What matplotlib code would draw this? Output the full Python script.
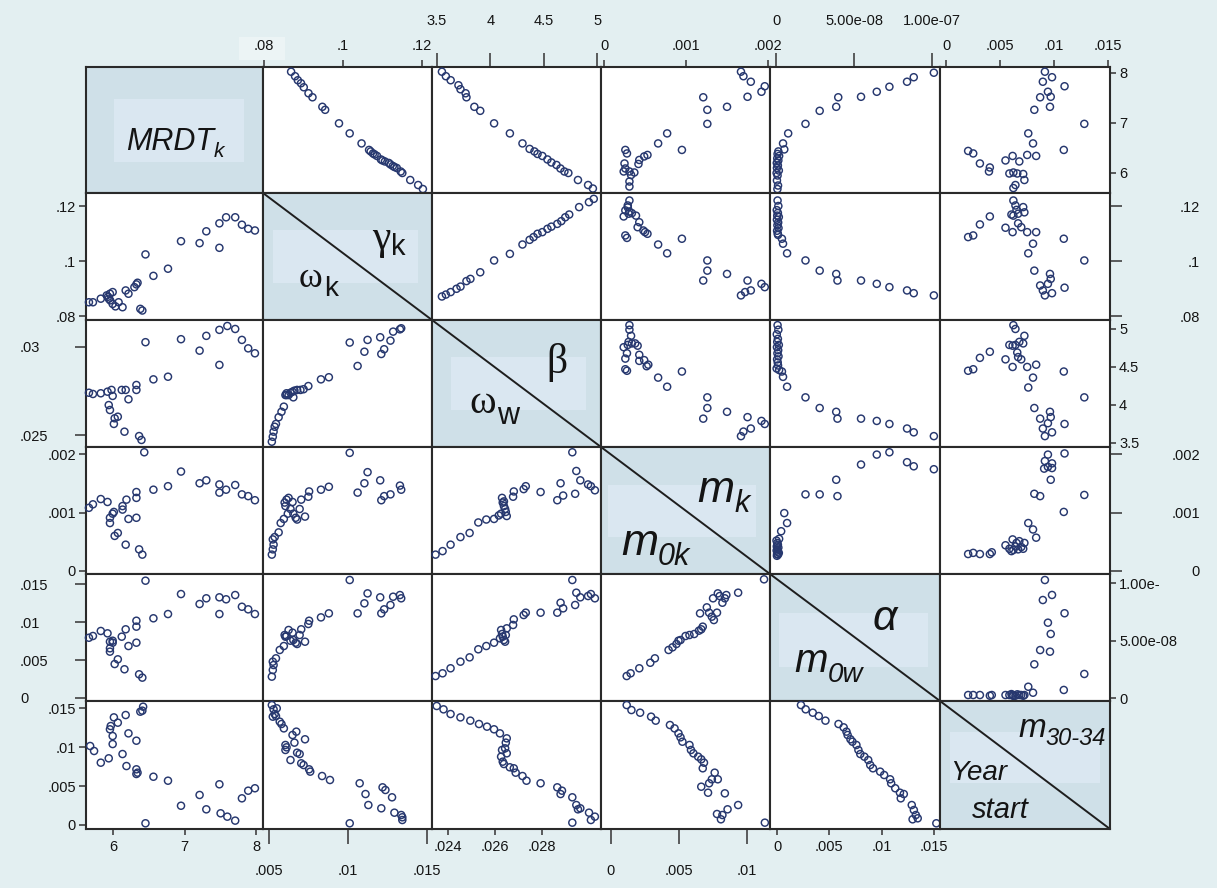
import matplotlib
matplotlib.use('Agg')
import matplotlib.pyplot as plt
from matplotlib.patches import Rectangle
from matplotlib.lines import Line2D

W, H = 1217, 888
BG = '#e3eff1'
DIAG_OUT = '#cfe0e8'
DIAG_IN = '#dae7f1'
MK = '#27386f'
FR = '#2a2a2a'
TXT = '#141414'
TICKC = '#333333'
FONT = 'Liberation Sans'

# ---------------- data ----------------
# upper triangle
c01_x = [.0869,.0879,.0886,.0894,.0901,.0913,.0923,.0948,.0955,.0990,.1017,.1047,.1066,.1070,.1076,.1080,.1086,.1096,.1100,.1106,.1116,.1120,.1126,.1130,.1136,.1146,.1150,.1170,.1190,.1202]
c01_y = [8.02,7.93,7.85,7.79,7.71,7.59,7.51,7.32,7.26,6.99,6.79,6.59,6.46,6.43,6.39,6.37,6.34,6.27,6.25,6.23,6.20,6.17,6.14,6.12,6.10,6.03,6.00,5.86,5.76,5.68]
c02_x = [3.546,3.583,3.628,3.701,3.720,3.768,3.776,3.850,3.905,4.035,4.183,4.301,4.368,4.413,4.442,4.487,4.535,4.572,4.620,4.657,4.694,4.731,4.821,4.916,4.961]
c02_y = [8.02,7.93,7.85,7.75,7.67,7.59,7.51,7.32,7.24,6.99,6.79,6.59,6.48,6.43,6.38,6.34,6.27,6.21,6.16,6.09,6.03,6.00,5.86,5.76,5.69]
c03_x = [.00167,.00170,.00179,.00196,.00192,.00175,.00121,.00126,.00150,.00126,.00077,.00066,.00095,.00026,.00028,.00053,.00049,.00043,.00042,.00025,.00026,.00031,.00037,.00024,.00033,.00031,.00031]
c03_y = [8.02,7.93,7.82,7.73,7.62,7.52,7.51,7.26,7.32,6.98,6.79,6.59,6.46,6.46,6.39,6.36,6.33,6.26,6.18,6.19,6.09,6.03,6.01,6.03,5.96,5.83,5.73]
c04_x = [1.012e-7,8.83e-8,8.40e-8,7.27e-8,6.46e-8,5.45e-8,3.99e-8,3.86e-8,2.80e-8,1.89e-8,7.8e-9,4.5e-9,5.3e-9,
         1.5e-9,1.0e-9,2.0e-9,0.8e-9,1.5e-9,0.5e-9,1.2e-9,0.6e-9,1.8e-9,0.4e-9,1.0e-9,0.6e-9,1.3e-9,0.9e-9]
c04_y = [8.00,7.91,7.82,7.72,7.62,7.52,7.51,7.32,7.24,6.98,6.79,6.59,6.47,
         6.43,6.38,6.34,6.29,6.25,6.20,6.15,6.10,6.05,6.00,5.95,5.85,5.75,5.68]
c05_x = [.00916,.00982,.00897,.01098,.00944,.00970,.00872,.00963,.00818,.01281,.00762,.00806,.01091,.00205,.00252,.00314,.00406,.00398,.00551,.00617,.00679,.00752,.00835,.00587,.00624,.00660,.00715,.00726,.00643,.00624]
c05_y = [8.02,7.91,7.82,7.73,7.62,7.52,7.51,7.32,7.26,6.98,6.79,6.59,6.46,6.44,6.39,6.19,6.11,6.03,6.25,6.34,6.23,6.36,6.34,5.99,6.01,5.99,5.98,5.86,5.76,5.70]

c12_x = [3.546,3.583,3.628,3.683,3.720,3.776,3.813,3.905,4.035,4.183,4.301,4.368,4.405,4.442,4.487,4.535,4.572,4.627,4.665,4.702,4.739,4.832,4.924,4.969]
c12_y = [.0871,.0878,.0887,.0899,.0907,.0927,.0935,.0959,.1002,.1026,.1060,.1077,.1087,.1099,.1105,.1117,.1125,.1135,.1145,.1159,.1169,.1196,.1214,.1226]
c13_x = [.00031,.00029,.00026,.00024,.00030,.00034,.00039,.00043,.00041,.00048,.00053,.00050,.00026,.00028,.00066,.00077,.00095,.00126,.00126,.00121,.00150,.00175,.00167,.00172,.00179,.00192,.00196,.00029,.00031]
c13_y = [.1220,.1202,.1184,.1162,.1172,.1174,.1165,.1141,.1123,.1111,.1099,.1105,.1093,.1084,.1060,.1028,.1081,.1002,.0965,.0929,.0953,.0929,.0875,.0887,.0893,.0917,.0905,.1195,.1180]
c14_x = [3.8e-9,4.5e-9,7.1e-9,1.89e-8,2.80e-8,3.86e-8,3.94e-8,5.45e-8,6.46e-8,7.27e-8,8.40e-8,8.83e-8,1.012e-7,
         1.0e-9,1.5e-9,0.5e-9,1.2e-9,0.8e-9,1.8e-9,0.6e-9,1.4e-9,0.9e-9,1.6e-9,0.7e-9,1.1e-9,1.3e-9]
c14_y = [.1081,.1063,.1028,.1002,.0965,.0953,.0929,.0929,.0917,.0905,.0893,.0883,.0875,
         .1220,.1200,.1185,.1175,.1165,.1160,.1150,.1140,.1130,.1120,.1110,.1100,.1095]
c15_x = [.00624,.00643,.00653,.00606,.00624,.00668,.00726,.00715,.00406,.00314,.00551,.00617,.00668,.00697,.00752,.00835,.00205,.00252,.01091,.00806,.00762,.01281,.00818,.00963,.00970,.00944,.00872,.00897,.00982,.00916,.01098]
c15_y = [.1220,.1202,.1186,.1169,.1165,.1172,.1177,.1196,.1162,.1133,.1121,.1105,.1137,.1123,.1105,.1105,.1087,.1093,.1081,.1063,.1028,.1002,.0965,.0953,.0935,.0917,.0911,.0893,.0883,.0875,.0903]

c23_x = [.00031,.00031,.00033,.00030,.00024,.00029,.00034,.00038,.00041,.00028,.00026,.00043,.00043,.00049,.00052,.00054,.00026,.00028,.00066,.00077,.00095,.00126,.00126,.00121,.00150,.00175,.00167,.00170,.00179,.00192,.00196]
c23_y = [5.05,4.99,4.91,4.83,4.76,4.79,4.81,4.81,4.78,4.68,4.61,4.66,4.58,4.59,4.51,4.53,4.47,4.45,4.36,4.24,4.44,4.10,3.96,3.82,3.91,3.84,3.59,3.65,3.69,3.79,3.75]
c24_x = [3.8e-9,4.5e-9,7.1e-9,1.89e-8,2.80e-8,3.86e-8,3.94e-8,5.45e-8,6.46e-8,7.27e-8,8.40e-8,8.83e-8,1.012e-7,
         1.0e-9,1.5e-9,0.5e-9,1.2e-9,0.8e-9,1.8e-9,0.6e-9,1.4e-9,0.9e-9,1.6e-9,0.7e-9,1.1e-9,1.3e-9,0.4e-9,2.0e-9]
c24_y = [4.44,4.37,4.24,4.10,3.96,3.91,3.82,3.82,3.79,3.75,3.69,3.64,3.59,
         5.05,4.99,4.93,4.87,4.83,4.79,4.76,4.72,4.68,4.64,4.60,4.56,4.52,4.48,4.46]
c25_x = [.00624,.00643,.00726,.00679,.00587,.00617,.00643,.00715,.00406,.00314,.00551,.00660,.00668,.00697,.00617,.00752,.00835,.00205,.00252,.01091,.00806,.00762,.01281,.00818,.00963,.00970,.00872,.00944,.00916,.00897,.00982,.01098]
c25_y = [5.05,5.00,4.91,4.83,4.79,4.78,4.79,4.81,4.70,4.62,4.60,4.69,4.63,4.60,4.50,4.50,4.53,4.45,4.47,4.44,4.36,4.23,4.10,3.96,3.91,3.84,3.82,3.76,3.59,3.69,3.64,3.75]

c34_x = [2.0e-9,3.3e-9,5.3e-9,7.1e-9,1.89e-8,2.80e-8,3.86e-8,3.94e-8,5.45e-8,6.46e-8,7.27e-8,8.40e-8,8.83e-8,1.012e-7,
         0.3e-9,0.8e-9,1.2e-9,0.5e-9,1.5e-9,0.9e-9,0.4e-9,1.1e-9,1.8e-9,0.7e-9,1.3e-9,0.6e-9]
c34_y = [.00055,.00068,.00099,.00082,.00131,.00131,.00156,.00128,.00182,.00199,.00203,.00186,.00179,.00174,
         .00052,.00048,.00045,.00042,.00040,.00037,.00035,.00033,.00031,.00029,.00028,.00026]
c35_x = [.00944,.00916,.00982,.00944,.00982,.00909,.00970,.01098,.00818,.00872,.01281,.01091,.00762,.00806,.00835,.00726,.00205,.00252,.00314,.00406,.00424,.00551,.00617,.00653,.00587,.00624,.00668,.00697,.00715,.00643,.00606,.00679]
c35_y = [.00199,.00188,.00184,.00178,.00176,.00175,.00156,.00201,.00132,.00128,.00130,.00101,.00082,.00071,.00057,.00048,.00029,.00031,.00029,.00029,.00032,.00044,.00054,.00048,.00038,.00036,.00037,.00041,.00038,.00042,.00034,.00051]
c45_x = [.00916,.00982,.00897,.01098,.00944,.00970,.00872,.00963,.00818,.01281,.00762,.01091,.00806,
         .00205,.00252,.00314,.00406,.00424,.00551,.00587,.00617,.00643,.00660,.00679,.00697,.00715,.00726,.00606,.00624]
c45_y = [1.026e-7,8.96e-8,8.52e-8,7.37e-8,6.55e-8,5.57e-8,4.17e-8,4.03e-8,2.93e-8,2.09e-8,9.8e-9,7.0e-9,4.6e-9,
         2.6e-9,2.6e-9,2.6e-9,2.0e-9,2.6e-9,2.6e-9,2.6e-9,2.6e-9,2.0e-9,3.2e-9,2.6e-9,2.6e-9,2.0e-9,2.6e-9,3.4e-9,1.8e-9]

# lower triangle
c10_x = [5.663,5.719,5.829,5.912,5.957,5.995,5.940,5.995,6.034,6.133,6.078,6.177,6.216,6.299,6.327,6.343,6.382,6.410,6.454,6.565,6.769,6.951,7.211,7.305,7.488,7.488,7.582,7.709,7.803,7.891,7.985,5.930,5.960]
c10_y = [.0850,.0850,.0863,.0875,.0881,.0887,.0863,.0844,.0835,.0832,.0850,.0893,.0881,.0905,.0915,.0921,.0826,.0820,.1024,.0946,.0972,.1072,.1065,.1108,.1048,.1137,.1159,.1159,.1132,.1117,.1111,.0870,.0857]
c20_x = [5.663,5.719,5.829,5.923,5.979,5.995,5.940,5.957,6.023,6.067,6.012,6.122,6.177,6.216,6.327,6.327,6.160,6.365,6.398,6.454,6.565,6.769,6.951,7.211,7.305,7.488,7.488,7.599,7.709,7.803,7.891,7.985]
c20_y = [.02740,.02733,.02737,.02746,.02756,.02722,.02670,.02642,.02595,.02604,.02563,.02756,.02756,.02703,.02784,.02756,.02519,.02494,.02472,.03027,.02816,.02831,.03044,.02979,.03063,.02898,.03097,.03119,.03102,.03040,.02992,.02964]
c30_x = [5.663,5.719,5.829,5.923,5.957,5.957,5.995,6.012,6.023,6.067,6.133,6.133,6.177,6.188,6.216,6.327,6.327,6.327,6.365,6.410,6.437,6.565,6.769,6.951,7.211,7.305,7.488,7.488,7.582,7.709,7.803,7.891,7.985]
c30_y = [.00108,.00114,.00123,.00118,.00091,.00082,.00098,.00101,.00060,.00065,.00111,.00105,.00045,.00122,.00089,.00091,.00125,.00135,.00037,.00028,.00203,.00139,.00145,.00170,.00150,.00155,.00134,.00148,.00139,.00147,.00131,.00128,.00121]
c40_x = [5.663,5.719,5.829,5.923,5.957,5.995,5.957,5.957,5.995,6.023,6.067,6.122,6.177,6.216,6.327,6.327,6.327,6.160,6.365,6.410,6.454,6.565,6.769,6.951,7.211,7.305,7.488,7.488,7.582,7.709,7.803,7.891,7.985]
c40_y = [.00793,.00816,.00882,.00851,.00741,.00754,.00654,.00610,.00728,.00447,.00509,.00807,.00904,.00684,.01017,.00939,.00728,.00378,.00312,.00268,.01544,.01049,.01105,.01368,.01237,.01312,.01105,.01325,.01299,.01355,.01201,.01167,.01105]
c50_x = [5.680,5.735,5.829,5.940,5.957,5.968,5.995,5.995,6.012,6.067,6.133,6.177,6.188,6.216,6.327,6.327,6.343,6.327,6.410,6.382,6.421,6.454,6.565,6.769,6.951,7.211,7.305,7.488,7.505,7.599,7.709,7.803,7.891,7.985]
c50_y = [.01013,.00949,.00799,.00855,.01227,.01269,.01141,.01038,.01380,.01312,.00910,.01410,.00756,.01175,.01081,.00714,.00671,.00654,.01466,.01453,.01517,.00022,.00619,.00568,.00247,.00385,.00201,.00522,.00150,.00107,.00056,.00342,.00440,.00471]

c21_x = [.00518,.00524,.00529,.00536,.00544,.00561,.00579,.00594,.00604,.00611,.00624,.00636,.00649,.00661,.00678,.00699,.00719,.00749,.00829,.00879,.01011,.01061,.01104,.01124,.01204,.01211,.01229,.01269,.01286,.01329,.01337,.00611,.00654]
c21_y = [.02462,.02490,.02519,.02547,.02563,.02601,.02632,.02661,.02727,.02737,.02727,.02740,.02746,.02752,.02756,.02756,.02760,.02778,.02816,.02828,.03025,.02892,.02973,.03040,.03055,.02960,.02987,.03036,.03087,.03100,.03106,.02727,.02714]
c31_x = [.00518,.00524,.00529,.00524,.00536,.00561,.00574,.00594,.00604,.00599,.00611,.00624,.00649,.00654,.00669,.00678,.00694,.00704,.00728,.00749,.00754,.00829,.00879,.01011,.01061,.01104,.01124,.01204,.01211,.01229,.01269,.01329,.01337,.00619,.00636]
c31_y = [.00028,.00037,.00045,.00054,.00058,.00066,.00082,.00089,.00111,.00117,.00122,.00125,.00118,.00098,.00091,.00088,.00106,.00122,.00093,.00127,.00136,.00139,.00144,.00202,.00134,.00150,.00169,.00155,.00121,.00128,.00131,.00146,.00139,.00098,.00106]
c41_x = [.00518,.00524,.00529,.00524,.00544,.00568,.00594,.00604,.00599,.00624,.00649,.00654,.00669,.00678,.00694,.00704,.00728,.00749,.00754,.00829,.00879,.01011,.01061,.01104,.01124,.01204,.01211,.01229,.01269,.01286,.01329,.01337,.00611,.00636]
c41_y = [.00281,.00368,.00434,.00478,.00522,.00632,.00684,.00807,.00829,.00895,.00860,.00763,.00728,.00711,.00829,.00904,.00741,.00974,.01017,.01061,.01114,.01553,.01114,.01246,.01377,.01325,.01114,.01167,.01224,.01333,.01355,.01312,.00816,.00754]
c51_x = [.00518,.00529,.00536,.00524,.00549,.00544,.00568,.00579,.00594,.00604,.00604,.00611,.00636,.00649,.00661,.00673,.00678,.00694,.00704,.00728,.00719,.00754,.00761,.00836,.00886,.01011,.01074,.01111,.01129,.01211,.01219,.01237,.01279,.01294,.01337,.01344,.01344]
c51_y = [.01538,.01483,.01423,.01389,.01496,.01397,.01325,.01295,.01239,.01026,.00962,.00996,.00833,.01154,.01056,.01197,.00927,.00910,.00791,.01099,.00769,.00714,.00684,.00628,.00577,.00022,.00535,.00397,.00256,.00214,.00483,.00449,.00355,.00158,.00128,.00099,.00064]

c32_x = [.02347,.02377,.02411,.02453,.02492,.02529,.02563,.02596,.02616,.02626,.02630,.02633,.02638,.02643,.02646,.02650,.02638,.02677,.02680,.02722,.02731,.02794,.02865,.02879,.02890,.02929,.02946,.02941,.02963,.02996,.03008,.03025]
c32_y = [.00028,.00034,.00045,.00058,.00065,.00083,.00088,.00089,.00095,.00098,.00125,.00117,.00111,.00106,.00101,.00094,.00119,.00127,.00136,.00140,.00145,.00135,.00121,.00150,.00129,.00203,.00171,.00132,.00155,.00148,.00145,.00138]
c42_x = [.02347,.02377,.02411,.02453,.02492,.02529,.02563,.02596,.02621,.02626,.02630,.02633,.02638,.02643,.02646,.02650,.02677,.02680,.02722,.02731,.02794,.02865,.02879,.02890,.02929,.02946,.02941,.02963,.02996,.03008,.03025]
c42_y = [.00289,.00325,.00391,.00478,.00535,.00641,.00684,.00728,.00785,.00895,.00842,.00807,.00763,.00741,.00829,.00917,.00961,.01035,.01092,.01123,.01123,.01123,.01254,.01180,.01553,.01386,.01224,.01325,.01342,.01368,.01312]
c52_x = [.02352,.02381,.02411,.02453,.02495,.02532,.02566,.02596,.02621,.02650,.02646,.02643,.02630,.02626,.02633,.02650,.02638,.02663,.02680,.02688,.02717,.02734,.02794,.02865,.02879,.02885,.02929,.02946,.02953,.02963,.03000,.03025,.03008,.02929]
c52_y = [.01526,.01483,.01423,.01380,.01338,.01295,.01261,.01227,.01175,.01111,.01056,.00983,.00962,.00876,.00812,.00919,.00782,.00740,.00727,.00671,.00628,.00568,.00535,.00483,.00397,.00440,.00355,.00256,.00201,.00214,.00158,.00107,.00064,.00030]

c43_x = [.00116,.00145,.00209,.00290,.00324,.00425,.00454,.00483,.00498,.00513,.00550,.00579,.00614,.00649,.00666,.00677,.00657,.00707,.00724,.00753,.00788,.00802,.00822,.00840,.00851,.00759,.00744,.00782,.00938,.01129]
c43_y = [.00289,.00325,.00391,.00464,.00522,.00632,.00667,.00711,.00754,.00763,.00816,.00829,.00842,.00886,.00904,.00939,.01114,.01193,.01123,.01312,.01377,.01342,.01254,.01312,.01355,.01026,.01070,.01123,.01386,.01562]
c53_x = [.00116,.00151,.00215,.00296,.00330,.00435,.00469,.00498,.00513,.00527,.00579,.00590,.00608,.00643,.00666,.00686,.00677,.00666,.00724,.00744,.00788,.00765,.00716,.00840,.00782,.00811,.00822,.00860,.00938,.01135]
c53_y = [.01538,.01474,.01440,.01389,.01338,.01282,.01239,.01175,.01124,.01068,.01026,.00962,.00919,.00876,.00842,.00799,.00727,.00491,.00535,.00586,.00586,.00671,.00414,.00406,.00141,.00073,.00128,.00201,.00256,.00030]
c54_x = [.00229,.00274,.00342,.00399,.00463,.00588,.00637,.00664,.00675,.00702,.00721,.00759,.00778,.00796,.00835,.00872,.00891,.00917,.00986,.01024,.01081,.01091,.01130,.01175,.01212,.01183,.01288,.01308,.01327,.01296,.01345,.01523]
c54_y = [.01538,.01483,.01440,.01397,.01338,.01295,.01252,.01197,.01154,.01099,.01068,.01026,.00962,.00910,.00876,.00833,.00769,.00727,.00684,.00641,.00586,.00535,.00471,.00414,.00397,.00342,.00256,.00192,.00128,.00073,.00086,.00022]

CELLS = {
    (0, 1): (c01_x, c01_y), (0, 2): (c02_x, c02_y), (0, 3): (c03_x, c03_y), (0, 4): (c04_x, c04_y), (0, 5): (c05_x, c05_y),
    (1, 2): (c12_x, c12_y), (1, 3): (c13_x, c13_y), (1, 4): (c14_x, c14_y), (1, 5): (c15_x, c15_y),
    (2, 3): (c23_x, c23_y), (2, 4): (c24_x, c24_y), (2, 5): (c25_x, c25_y),
    (3, 4): (c34_x, c34_y), (3, 5): (c35_x, c35_y), (4, 5): (c45_x, c45_y),
    (1, 0): (c10_x, c10_y), (2, 0): (c20_x, c20_y), (3, 0): (c30_x, c30_y), (4, 0): (c40_x, c40_y), (5, 0): (c50_x, c50_y),
    (2, 1): (c21_x, c21_y), (3, 1): (c31_x, c31_y), (4, 1): (c41_x, c41_y), (5, 1): (c51_x, c51_y),
    (3, 2): (c32_x, c32_y), (4, 2): (c42_x, c42_y), (5, 2): (c52_x, c52_y),
    (4, 3): (c43_x, c43_y), (5, 3): (c53_x, c53_y), (5, 4): (c54_x, c54_y),
}

# axis ranges: upper triangle uses top/right scales, lower uses bottom/left scales
XLIM_UP = {1: (.0798, .1225), 2: (3.453, 5.037), 3: (-.0000366, .002024), 4: (-3.85e-9, 1.0513e-7), 5: (-.000556, .01519)}
XLIM_LO = {0: (5.622, 8.098), 1: (.00462, .01532), 2: (.02332, .03051), 3: (-.000735, .01173), 4: (-.00067, .01558)}
YLIM_UP = {0: (5.601, 8.114), 1: (.07855, .12473), 2: (3.447, 5.118), 3: (-.0000513, .00212), 4: (-2.6e-9, 1.0783e-7)}
YLIM_LO = {1: (.07855, .12473), 2: (.02432, .03153), 3: (-.0000513, .00212), 4: (-.000395, .01632), 5: (-.000513, .0159)}

# tick specs: (values, labels, far?)
TOP = {1: ([.08, .1, .12], ['.08', '.1', '.12'], False),
       2: ([3.5, 4, 4.5, 5], ['3.5', '4', '4.5', '5'], True),
       3: ([0, .001, .002], ['0', '.001', '.002'], False),
       4: ([0, 5e-8, 1e-7], ['0', '5.00e-08', '1.00e-07'], True),
       5: ([0, .005, .01, .015], ['0', '.005', '.01', '.015'], False)}
BOTTOM = {0: ([6, 7, 8], ['6', '7', '8'], False),
          1: ([.005, .01, .015], ['.005', '.01', '.015'], True),
          2: ([.024, .026, .028], ['.024', '.026', '.028'], False),
          3: ([0, .005, .01], ['0', '.005', '.01'], True),
          4: ([0, .005, .01, .015], ['0', '.005', '.01', '.015'], False)}
LEFT = {1: ([.08, .1, .12], ['.08', '.1', '.12'], False),
        2: ([.025, .03], ['.025', '.03'], True),
        3: ([0, .001, .002], ['0', '.001', '.002'], False),
        4: ([0, .005, .01, .015], ['0', '.005', '.01', '.015'], True),
        5: ([0, .005, .01, .015], ['0', '.005', '.01', '.015'], False)}
RIGHT = {0: ([6, 7, 8], ['6', '7', '8'], False),
         1: ([.08, .1, .12], ['.08', '.1', '.12'], True),
         2: ([3.5, 4, 4.5, 5], ['3.5', '4', '4.5', '5'], False),
         3: ([0, .001, .002], ['0', '.001', '.002'], True),
         4: ([0, 5e-8, 1e-7], ['0', '5.00e-08', '1.00e-'], False)}

# ---------------- layout ----------------
COLS = [86, 263, 432, 601, 770, 940, 1110]
ROWS = [67, 193, 320, 447, 574, 701, 829]
PT = 0.72  # points per pixel at dpi 100
TFS = 10.5

fig = plt.figure(figsize=(W / 100, H / 100), dpi=100, facecolor=BG)

# light patch behind the ".08" label (drawn underneath everything)
fig.patches.append(Rectangle((239 / W, 1 - 60 / H), 46 / W, 23 / H, transform=fig.transFigure,
                             facecolor='#ecf4f5', edgecolor='none', zorder=-5))


def cell_rect(r, c):
    x0, x1 = COLS[c], COLS[c + 1]
    y0, y1 = ROWS[r], ROWS[r + 1]
    return [x0 / W, 1 - y1 / H, (x1 - x0) / W, (y1 - y0) / H]


def style_frame(ax):
    for s in ax.spines.values():
        s.set_color(FR)
        s.set_linewidth(1.5)


def set_xt(ax, spec, side):
    vals, labs, far = spec
    ax.set_xticks(vals)
    ax.set_xticklabels(labs, fontsize=TFS, family=FONT, color=TXT)
    if side == 'top':
        L, P = (14, 25) if far else (7, 7)
        ax.tick_params(axis='x', top=True, labeltop=True, bottom=False, labelbottom=False)
    else:
        L, P = (15, 20) if far else (6, 5)
        ax.tick_params(axis='x', bottom=True, labelbottom=True, top=False, labeltop=False)
    ax.tick_params(axis='x', direction='out', length=L * PT, pad=P * PT, width=1.1, color=TICKC)


def set_yt(ax, spec, side):
    vals, labs, far = spec
    ax.set_yticks(vals)
    ax.set_yticklabels(labs, fontsize=TFS, family=FONT, color=TXT)
    if side == 'left':
        L, P = (11, 55) if far else (7, 3)
        ax.tick_params(axis='y', left=True, labelleft=True, right=False, labelright=False)
    else:
        L, P = (12, 78) if far else (6, 3)
        ax.tick_params(axis='y', right=True, labelright=True, left=False, labelleft=False)
    ax.tick_params(axis='y', direction='out', length=L * PT, pad=P * PT, width=1.1, color=TICKC)
    if far:
        for t in ax.get_yticklabels():
            t.set_horizontalalignment('left' if side == 'left' else 'right')


INNER = {0: (.16, .89, .25, .75), 1: (.06, .92, .29, .71), 2: (.11, .91, .29, .71),
         3: (.04, .92, .30, .71), 4: (.05, .93, .31, .73), 5: (.06, .94, .24, .64)}

for r in range(6):
    for c in range(6):
        ax = fig.add_axes(cell_rect(r, c))
        style_frame(ax)
        ax.set_xticks([])
        ax.set_yticks([])
        if r == c:
            ax.set_facecolor(DIAG_OUT)
            x0, x1, yt, yb = INNER[r]
            ax.add_patch(Rectangle((x0, 1 - yb), x1 - x0, yb - yt, transform=ax.transAxes,
                                   facecolor=DIAG_IN, edgecolor='none'))
            if r > 0:
                ax.add_line(Line2D([0, 1], [1, 0], transform=ax.transAxes, color='#1e1e1e', lw=1.4))
            ax.set_xlim(0, 1)
            ax.set_ylim(0, 1)
            continue
        ax.set_facecolor('white')
        xs, ys = CELLS[(r, c)]
        if c > r:
            ax.set_xlim(*XLIM_UP[c])
            ax.set_ylim(*YLIM_UP[r])
        else:
            ax.set_xlim(*XLIM_LO[c])
            ax.set_ylim(*YLIM_LO[r])
        ax.scatter(xs, ys, s=26, facecolors='none', edgecolors=MK, linewidths=1.05, zorder=3, clip_on=False)
        if r == 0:
            set_xt(ax, TOP[c], 'top')
        if r == 5:
            set_xt(ax, BOTTOM[c], 'bottom')
        if c == 0:
            set_yt(ax, LEFT[r], 'left')
        if c == 5:
            set_yt(ax, RIGHT[r], 'right')

# ---------------- diagonal labels ----------------
fig.canvas.draw()
renderer = fig.canvas.get_renderer()


def label(x, y, main, size, style='italic', family=FONT, sub=None, subsize=None, drop=0,
          subfamily=None, substyle=None, gap=0):
    t = fig.text(x / W, 1 - y / H, main, fontsize=size, style=style, family=family,
                 ha='left', va='baseline', color=TXT, zorder=10)
    if sub:
        bb = t.get_window_extent(renderer)
        fig.text((bb.x1 + gap) / W, 1 - (y + drop) / H, sub, fontsize=subsize,
                 style=substyle or style, family=subfamily or family,
                 ha='left', va='baseline', color=TXT, zorder=10)


SERIF = 'Liberation Serif'
label(126, 150, 'MRDT', 22, sub='k', subsize=15, drop=7)
label(372, 249, 'γ', 30, style='normal', family=SERIF, sub='k', subsize=21, drop=6, subfamily=FONT, gap=1)
label(299, 287, 'ω', 26, style='normal', family=SERIF, sub='k', subsize=20, drop=9, subfamily=FONT, gap=1)
label(546, 373, 'β', 30, style='normal', family=SERIF)
label(469, 413, 'ω', 29, style='normal', family=SERIF, sub='w', subsize=22, drop=11, subfamily=FONT, gap=1)
label(697, 502, 'm', 32, sub='k', subsize=22, drop=10)
label(621, 555, 'm', 32, sub='0k', subsize=22, drop=10)
label(873, 630, 'α', 31)
label(794, 672, 'm', 29, sub='0w', subsize=20, drop=10)
label(1018, 737, 'm', 24, sub='30-34', subsize=17, drop=8)
label(950, 780, 'Year', 20)
label(972, 818, 'start', 21)

fig.savefig('out.png', dpi=100, facecolor=BG)
